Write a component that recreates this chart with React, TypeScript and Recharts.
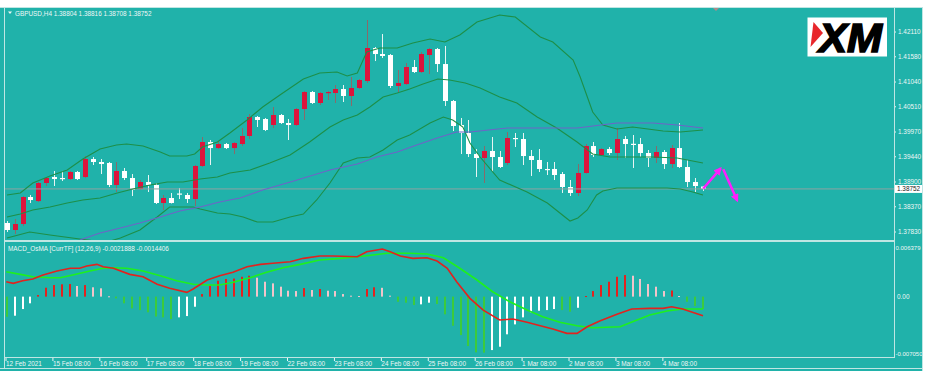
import React from 'react';
import { ComposedChart, Bar, Line, XAxis, YAxis, ReferenceLine } from 'recharts';

// ---------- data ----------
const symbolTitle = 'GBPUSD,H4  1.38804 1.38816 1.38708 1.38752';
const macdTitle = 'MACD_OsMA [CurrTF] (12,26,9) -0.0021888 -0.0014406';

const timeLabels = ['12 Feb 2021', '15 Feb 08:00', '16 Feb 08:00', '17 Feb 08:00', '18 Feb 08:00', '19 Feb 08:00', '22 Feb 08:00', '23 Feb 08:00', '24 Feb 08:00', '25 Feb 08:00', '26 Feb 08:00', '1 Mar 08:00', '2 Mar 08:00', '3 Mar 08:00', '4 Mar 08:00'];
const timeLabelBars = [0, 6, 12, 18, 24, 30, 36, 42, 48, 54, 60, 66, 72, 78, 84];

const priceTicks = [1.4211, 1.4158, 1.4104, 1.4051, 1.3997, 1.3944, 1.389, 1.3837, 1.3783];
const macdTicks = [0.006379, 0, -0.00705];
const macdTickLabels = ['0.006379', '0.00', '-0.007050'];
const lastPrice = 1.38752;

const opens = [1.38023, 1.37873, 1.38001, 1.38579, 1.38493, 1.38879, 1.39007, 1.38986, 1.38964, 1.39114, 1.39007, 1.39392, 1.39328, 1.39307, 1.38836, 1.39136, 1.38986, 1.3875, 1.389, 1.38836, 1.38451, 1.38558, 1.38654, 1.38622, 1.38536, 1.39243, 1.39756, 1.39627, 1.39713, 1.39627, 1.39713, 1.39885, 1.40291, 1.40248, 1.4012, 1.40334, 1.40163, 1.4012, 1.40462, 1.40826, 1.40591, 1.40805, 1.40805, 1.4089, 1.40741, 1.40912, 1.41061, 1.41768, 1.41639, 1.41618, 1.40955, 1.40997, 1.41361, 1.41254, 1.41618, 1.41746, 1.41425, 1.40634, 1.4012, 1.39949, 1.39499, 1.39414, 1.39564, 1.39435, 1.39307, 1.39842, 1.3982, 1.39456, 1.39371, 1.39179, 1.39179, 1.39071, 1.38793, 1.38665, 1.39093, 1.3967, 1.39478, 1.39606, 1.39521, 1.3982, 1.39718, 1.39713, 1.39521, 1.39414, 1.39542, 1.39285, 1.39627, 1.39221, 1.389, 1.38804];
const highs = [1.38065, 1.38108, 1.386, 1.38622, 1.389, 1.39007, 1.39136, 1.39136, 1.39136, 1.39136, 1.39456, 1.39435, 1.39392, 1.39328, 1.39328, 1.392, 1.39071, 1.38943, 1.3905, 1.38879, 1.38622, 1.38665, 1.38772, 1.38665, 1.39264, 1.39863, 1.39799, 1.39777, 1.39735, 1.39756, 1.40056, 1.40355, 1.40312, 1.4027, 1.40505, 1.40355, 1.40248, 1.40483, 1.40847, 1.40847, 1.40826, 1.40847, 1.40976, 1.40976, 1.41147, 1.41104, 1.42367, 1.41789, 1.42067, 1.41639, 1.41297, 1.41447, 1.41511, 1.41682, 1.41768, 1.41768, 1.41811, 1.40655, 1.4027, 1.40227, 1.39606, 1.3967, 1.39863, 1.39564, 1.3997, 1.39949, 1.39949, 1.39585, 1.39606, 1.39328, 1.39328, 1.39114, 1.38943, 1.39285, 1.39713, 1.39756, 1.39627, 1.39649, 1.40056, 1.39885, 1.39906, 1.39842, 1.39585, 1.3967, 1.39585, 1.39692, 1.40163, 1.39371, 1.38986, 1.38816];
const lows = [1.3783, 1.37787, 1.37958, 1.38451, 1.38472, 1.38814, 1.38814, 1.38922, 1.38943, 1.38943, 1.38986, 1.39264, 1.39071, 1.38793, 1.38686, 1.38943, 1.386, 1.38729, 1.38686, 1.38429, 1.38301, 1.3844, 1.38536, 1.38451, 1.38386, 1.39221, 1.39264, 1.39606, 1.39606, 1.39499, 1.3967, 1.3982, 1.40077, 1.39991, 1.40056, 1.40142, 1.39799, 1.40099, 1.40227, 1.4057, 1.40548, 1.40655, 1.40591, 1.40612, 1.40527, 1.4089, 1.41019, 1.41489, 1.41554, 1.40912, 1.40826, 1.40976, 1.41233, 1.41233, 1.41211, 1.41254, 1.40527, 1.39991, 1.39499, 1.39435, 1.39007, 1.38879, 1.39114, 1.392, 1.39264, 1.39649, 1.39264, 1.39029, 1.39114, 1.3905, 1.38943, 1.38665, 1.386, 1.386, 1.3908, 1.39435, 1.39456, 1.39478, 1.39371, 1.39414, 1.392, 1.39435, 1.39221, 1.39307, 1.39179, 1.392, 1.392, 1.38793, 1.38686, 1.38708];
const closes = [1.37873, 1.38001, 1.38579, 1.38515, 1.38879, 1.38986, 1.38964, 1.38975, 1.39114, 1.38964, 1.39392, 1.39328, 1.39285, 1.38836, 1.39136, 1.38986, 1.38729, 1.389, 1.38836, 1.38451, 1.38558, 1.38451, 1.38632, 1.38536, 1.39243, 1.39756, 1.39627, 1.39713, 1.39627, 1.39735, 1.39885, 1.40291, 1.40227, 1.40013, 1.40334, 1.40163, 1.4012, 1.40462, 1.40826, 1.40591, 1.40805, 1.40826, 1.4089, 1.40741, 1.40912, 1.41083, 1.41768, 1.41639, 1.41597, 1.40955, 1.41019, 1.41361, 1.41254, 1.41639, 1.41746, 1.41425, 1.40634, 1.40099, 1.39949, 1.39499, 1.39414, 1.39564, 1.39435, 1.39221, 1.39842, 1.3982, 1.39456, 1.39371, 1.39179, 1.39157, 1.3905, 1.38793, 1.38665, 1.39093, 1.3967, 1.39478, 1.39606, 1.39521, 1.3982, 1.39713, 1.39708, 1.39521, 1.39414, 1.39542, 1.39285, 1.39627, 1.39221, 1.389, 1.38814, 1.38752];

// [bar index, value]
const upperBand: [number, number][] = [[0, 1.38622], [1.7, 1.38665], [3.3, 1.38879], [5.5, 1.39029], [7.7, 1.39157], [9.7, 1.39392], [11.9, 1.39606], [14, 1.39692], [15.3, 1.39713], [17.4, 1.3967], [19.6, 1.39542], [20.8, 1.39456], [23, 1.39456], [24, 1.39499], [25, 1.39649], [26.9, 1.39756], [28.5, 1.39949], [30.7, 1.40227], [32.7, 1.40505], [34.9, 1.40762], [37.9, 1.41104], [40, 1.41233], [42.2, 1.41254], [43.5, 1.41168], [44.8, 1.41233], [46, 1.41682], [47.7, 1.41768], [49.9, 1.41768], [51.9, 1.41875], [54.1, 1.4196], [56, 1.41896], [57.9, 1.42046], [60.1, 1.42324], [63, 1.42474], [65, 1.42431], [68.2, 1.42003], [69.8, 1.41896], [72.4, 1.41511], [73.3, 1.41147], [74.9, 1.40398], [76.2, 1.4012], [78, 1.40034], [80, 1.40077], [83.9, 1.39991], [86.1, 1.3997], [89, 1.40013]];
const middleBand: [number, number][] = [[0, 1.38151], [1.7, 1.38215], [3.3, 1.38301], [5.5, 1.38365], [7.7, 1.38451], [9.7, 1.38515], [11.9, 1.38558], [14.1, 1.38665], [16.1, 1.3875], [18.3, 1.38836], [20.5, 1.389], [22.5, 1.389], [24.7, 1.38964], [26.9, 1.39007], [28.5, 1.39093], [31.1, 1.39157], [33.6, 1.39307], [36.2, 1.39478], [38.7, 1.39756], [41.3, 1.40077], [43, 1.40227], [44.8, 1.40334], [46.4, 1.40505], [48.1, 1.40719], [49.9, 1.40805], [51.5, 1.4089], [53.2, 1.40997], [55.1, 1.41104], [56.6, 1.41083], [58.6, 1.41019], [60.5, 1.40912], [63, 1.40719], [65.2, 1.40591], [67.8, 1.40291], [70.3, 1.40056], [72.9, 1.39756], [74.9, 1.39499], [77.1, 1.39435], [80, 1.39435], [82.6, 1.39435], [85.7, 1.39414], [89, 1.39307]];
const lowerBand: [number, number][] = [[0, 1.37702], [2.9, 1.3783], [5.5, 1.37766], [9.3, 1.3768], [11.3, 1.37637], [13.2, 1.37637], [14.5, 1.37702], [17, 1.37873], [19.2, 1.38151], [20.8, 1.38365], [23.8, 1.38365], [24.7, 1.38322], [26.9, 1.38236], [28.5, 1.38215], [30.2, 1.38151], [32, 1.38044], [34, 1.38044], [36.2, 1.38151], [37.9, 1.38215], [39.6, 1.38515], [41.3, 1.38879], [43, 1.39307], [44.8, 1.39414], [46.4, 1.39435], [48.1, 1.39585], [49.9, 1.39799], [51.5, 1.39906], [54.1, 1.40163], [55.8, 1.40291], [57, 1.40227], [58.3, 1.40077], [59.2, 1.39735], [60.5, 1.39435], [63, 1.38943], [66.5, 1.38686], [69.1, 1.38451], [72, 1.38065], [73, 1.38129], [74.2, 1.38301], [75.4, 1.38622], [76.2, 1.38707], [78, 1.38772], [81.3, 1.38772], [84.4, 1.38772], [86.1, 1.3875], [87.7, 1.38686], [89, 1.38622]];
const slowMA: [number, number][] = [[9.3, 1.37659], [11.9, 1.37809], [14.5, 1.37916], [17, 1.38023], [19.6, 1.38151], [22.1, 1.38279], [24.7, 1.38365], [27.2, 1.38472], [29.8, 1.38558], [32.7, 1.38729], [37.1, 1.38943], [41.3, 1.39157], [44.8, 1.39285], [47.3, 1.39435], [49.9, 1.39542], [52.4, 1.39692], [55, 1.39842], [57.5, 1.3997], [59.2, 1.3997], [64, 1.40056], [72.9, 1.40056], [78, 1.40163], [82.6, 1.40163], [85.7, 1.4012], [89, 1.40056]];

const arrowUp: [number, number][] = [[89.04, 1.3876], [91.27, 1.39193]];
const arrowDown: [number, number][] = [[91.6, 1.39172], [93.39, 1.385]];

const macdLine: [number, number][] = [[-0.1, 0.00174], [0.8, 0.00155], [2, 0.00186], [3.3, 0.00206], [4.6, 0.00252], [6.4, 0.00299], [8.1, 0.00331], [9.3, 0.00331], [10.2, 0.00357], [11.5, 0.00377], [12.3, 0.00349], [13.6, 0.00331], [15.7, 0.0026], [17.4, 0.00232], [19.2, 0.00144], [20.8, 0.00097], [23, 0.0005], [23.8, 0.00089], [25.6, 0.00194], [27.2, 0.00244], [28.9, 0.00284], [30.7, 0.00349], [32.4, 0.00377], [34, 0.00389], [36.2, 0.00408], [37.9, 0.00447], [40, 0.00474], [41.7, 0.00474], [44.8, 0.00466], [46, 0.00524], [48, 0.00556], [49, 0.00524], [50.3, 0.00474], [51.9, 0.00447], [53.7, 0.00454], [55, 0.00416], [56.3, 0.00331], [57.5, 0.00174], [59.2, -0.0002], [60.9, -0.00157], [63, -0.00273], [64.7, -0.00262], [66.5, -0.003], [68.2, -0.0034], [69.8, -0.00378], [71.6, -0.00429], [72.9, -0.00429], [74.2, -0.00352], [75.8, -0.00285], [78, -0.00207], [79.9, -0.00145], [82.2, -0.00137], [83.9, -0.00137], [85, -0.00118], [86.4, -0.00145], [89, -0.00223]];
const signalLine: [number, number][] = [[-0.1, 0.00291], [1.7, 0.0026], [3.3, 0.00232], [5.5, 0.00221], [6.8, 0.00221], [8.4, 0.00252], [10.6, 0.00299], [12.3, 0.00331], [13.6, 0.00338], [15.3, 0.00331], [17.4, 0.00299], [19.6, 0.00244], [21.7, 0.00186], [23.8, 0.00144], [25.6, 0.00135], [27.2, 0.00135], [28.9, 0.00167], [31.1, 0.00221], [33.2, 0.00284], [35.3, 0.00338], [37.5, 0.00377], [40, 0.00427], [42.6, 0.00447], [46, 0.00478], [48.6, 0.00506], [51.5, 0.00506], [53.7, 0.00498], [55.8, 0.00454], [57.9, 0.00331], [60.1, 0.00194], [62.1, 0.00057], [64.3, -0.0006], [66.5, -0.00157], [68.5, -0.00235], [70.7, -0.003], [72.9, -0.0034], [74.9, -0.00363], [78.4, -0.00352], [80, -0.00293], [82.2, -0.00215], [84.4, -0.00168], [86.4, -0.00145], [89, -0.00145]];
const osma = [-0.00235, -0.00223, -0.00145, -0.00078, 0.00019, 0.00104, 0.00135, 0.00144, 0.00147, 0.00124, 0.00135, 0.00109, 0.00097, 0.00004, -0.0002, -0.00078, -0.00137, -0.00157, -0.00183, -0.00232, -0.00242, -0.00262, -0.00242, -0.00227, -0.00118, 0.0003, 0.00127, 0.00186, 0.00206, 0.00211, 0.00232, 0.00244, 0.00221, 0.00174, 0.00155, 0.00116, 0.00069, 0.00065, 0.001, 0.00077, 0.00089, 0.00069, 0.00065, 0.0003, 0.00011, 0.00007, 0.00089, 0.00109, 0.00103, 0.00011, -0.0006, -0.00071, -0.00098, -0.0009, -0.00071, -0.00086, -0.00207, -0.0034, -0.00449, -0.00577, -0.00651, -0.00654, -0.00624, -0.00585, -0.0044, -0.00324, -0.00242, -0.00183, -0.00165, -0.00157, -0.00145, -0.00157, -0.00176, -0.0013, 0.00007, 0.00065, 0.00135, 0.00174, 0.00232, 0.00252, 0.00244, 0.00206, 0.00147, 0.00116, 0.00065, 0.00071, 0.00007, -0.0006, -0.0011, -0.00145];

// ---------- styles ----------
const TEAL = '#20B2AA';
const FRAME = '#bfe6e3';
const TXT = '#eef7f6';
const UP = '#dc143c';
const DN = '#ffffff';
const WICK_UP = '#8a6a6a';
const WICK_DN = '#e8f4f3';
const BAND = '#1d8f48';
const MA = '#6e64c8';
const FONT = '"Liberation Sans", Arial, sans-serif';
const FS = 6.4;
const X_DOMAIN: [number, number] = [-0.2558, 113.43];
const PRICE_DOMAIN: [number, number] = [1.37659, 1.42624];
const MACD_DOMAIN: [number, number] = [-0.00705, 0.006379];

const candleRows = opens.map((o, i) => ({ i, open: o, high: highs[i], low: lows[i], close: closes[i], range: [lows[i], highs[i]] }));
const histRows = osma.map((v, i) => ({ i, v, k: i }));
const pts = (arr: [number, number][]) => arr.map(([i, v]) => ({ i, v }));
const histColor = (k: number) => {
  const v = osma[k];
  const prev = k > 0 ? osma[k - 1] : v;
  if (v >= 0) return v >= prev ? '#e3221e' : '#f3c4ca';
  return v <= prev ? '#3ccb3c' : '#ffffff';
};

const Candle = (props: any) => {
  const { x, y, width, height, payload } = props;
  if (x == null || y == null || !payload) return null;
  const { open, close, high, low } = payload;
  const cx = Math.round(x + width / 2) + 0.5;
  const top = Math.min(y, y + height);
  const h = Math.abs(height);
  const span = high - low || 1e-9;
  const py = (v: number) => top + ((high - v) / span) * h;
  const bull = close >= open;
  const bTop = py(Math.max(open, close));
  const bBot = py(Math.min(open, close));
  const bh = Math.max(1.2, bBot - bTop);
  return (
    <g>
      <line x1={cx} x2={cx} y1={top} y2={top + h} stroke={bull ? WICK_UP : WICK_DN} strokeWidth={1} />
      <rect x={cx - 2.5} y={bTop} width={5} height={bh} fill={bull ? UP : DN} />
    </g>
  );
};

const HistBar = (props: any) => {
  const { x, y, width, height, payload } = props;
  if (x == null || y == null || !payload) return null;
  const cx = Math.round(x + width / 2);
  const top = Math.min(y, y + height);
  const h = Math.max(1, Math.abs(height));
  return <rect x={cx - 1} y={top} width={2} height={h} fill={histColor(payload.k)} />;
};

const PriceTick = (props: any) => {
  const { x, y, payload } = props;
  return (
    <g>
      <line x1={x} x2={x + 2} y1={y} y2={y} stroke={TXT} strokeWidth={1} />
      <text x={x + 4} y={y + 2.3} fontSize={FS} fill={TXT} fontFamily={FONT}>{Number(payload.value).toFixed(5)}</text>
    </g>
  );
};

const MacdTick = (props: any) => {
  const { x, y, payload, index } = props;
  const k = macdTicks.indexOf(payload.value);
  const dy = k === 0 ? 7.7 : k === macdTicks.length - 1 ? -1.3 : 2.3;
  const edge = k !== 1;
  return (
    <text x={x + (edge ? 1.5 : 3)} y={y + dy} fontSize={edge ? 6 : FS} fill={TXT} fontFamily={FONT}>{macdTickLabels[k >= 0 ? k : index]}</text>
  );
};

const TimeTick = (props: any) => {
  const { x, y, payload } = props;
  const k = timeLabelBars.indexOf(payload.value);
  if (k < 0) return null;
  return (
    <g>
      <line x1={x - 1} x2={x - 1} y1={y} y2={y + 4} stroke={TXT} strokeWidth={1} />
      <text x={x - 1} y={y + 8.6} fontSize={FS} fill={TXT} fontFamily={FONT}>{timeLabels[k]}</text>
    </g>
  );
};

const PriceBox = (props: any) => {
  const vb = props.viewBox || {};
  const bx = vb.x + vb.width + 1;
  return (
    <g>
      <rect x={bx} y={vb.y - 4} width={27} height={8} fill="#ffffff" />
      <text x={bx + 2} y={vb.y + 2.3} fontSize={FS} fill="#1a1a1a" fontFamily={FONT}>{lastPrice.toFixed(5)}</text>
    </g>
  );
};

export default function App() {
  return (
    <div style={{ position: 'absolute', left: 0, top: 0, width: 928, height: 371, background: '#ffffff', overflow: 'hidden', fontFamily: FONT }}>
      <div style={{ position: 'absolute', left: 0, top: 7, width: 923, height: 364, background: TEAL }} />
      <div style={{ position: 'absolute', left: 0, top: 0, width: 923, height: 241, overflow: 'hidden' }}>
        <ComposedChart width={923} height={241} data={candleRows} margin={{ top: 8, right: 0, bottom: 1, left: 5 }}>
          <defs>
            <marker id="arrowHead" viewBox="0 0 10 10" refX="8" refY="5" markerWidth="3.4" markerHeight="3.2" orient="auto">
              <path d="M0,0 L10,5 L0,10 z" fill="#ff1cff" />
            </marker>
          </defs>
          <XAxis dataKey="i" type="number" domain={X_DOMAIN} hide allowDataOverflow />
          <YAxis orientation="right" width={29} domain={PRICE_DOMAIN} ticks={priceTicks} interval={0} tick={<PriceTick />} axisLine={false} tickLine={false} tickSize={0} tickMargin={0} allowDataOverflow />
          <ReferenceLine y={lastPrice} stroke="#8fa3a1" strokeWidth={1} ifOverflow="visible" label={(p: any) => <PriceBox {...p} />} />
          <Line data={pts(lowerBand)} dataKey="v" stroke={BAND} strokeWidth={1.1} dot={false} isAnimationActive={false} />
          <Line data={pts(middleBand)} dataKey="v" stroke={BAND} strokeWidth={1.1} dot={false} isAnimationActive={false} />
          <Line data={pts(upperBand)} dataKey="v" stroke={BAND} strokeWidth={1.1} dot={false} isAnimationActive={false} />
          <Line data={pts(slowMA)} dataKey="v" stroke={MA} strokeWidth={1.1} dot={false} isAnimationActive={false} />
          <Bar dataKey="range" barSize={5} shape={(p: any) => <Candle {...p} />} isAnimationActive={false} />
          <Line data={pts(arrowUp)} dataKey="v" stroke="#ff1cff" strokeWidth={2.5} dot={false} markerEnd="url(#arrowHead)" isAnimationActive={false} />
          <Line data={pts(arrowDown)} dataKey="v" stroke="#ff1cff" strokeWidth={2.5} dot={false} markerEnd="url(#arrowHead)" isAnimationActive={false} />
        </ComposedChart>
      </div>
      <div style={{ position: 'absolute', left: 0, top: 241, width: 923, height: 130, overflow: 'hidden' }}>
        <ComposedChart width={923} height={130} data={histRows} margin={{ top: 1, right: 0, bottom: 0, left: 5 }}>
          <XAxis dataKey="i" type="number" domain={X_DOMAIN} ticks={timeLabelBars} interval={0} height={14} tick={<TimeTick />} axisLine={false} tickLine={false} tickSize={0} tickMargin={0} allowDataOverflow />
          <YAxis orientation="right" width={29} domain={MACD_DOMAIN} ticks={macdTicks} interval={0} tick={<MacdTick />} axisLine={false} tickLine={false} tickSize={0} tickMargin={0} allowDataOverflow />
          <Bar dataKey="v" barSize={2} shape={(p: any) => <HistBar {...p} />} isAnimationActive={false} />
          <Line data={pts(signalLine)} dataKey="v" stroke="#1ef01e" strokeWidth={1.6} dot={false} isAnimationActive={false} />
          <Line data={pts(macdLine)} dataKey="v" stroke="#e3221e" strokeWidth={1.6} dot={false} isAnimationActive={false} />
        </ComposedChart>
      </div>
      <svg width={928} height={371} style={{ position: 'absolute', left: 0, top: 0, pointerEvents: 'none' }}>
        <line x1={0} x2={923} y1={7.5} y2={7.5} stroke={FRAME} />
        <line x1={4.5} x2={4.5} y1={7} y2={369} stroke={FRAME} />
        <line x1={4.5} x2={894.5} y1={241} y2={241} stroke={FRAME} strokeWidth={2} />
        <line x1={4.5} x2={894.5} y1={357.5} y2={357.5} stroke={FRAME} />
        <line x1={894.5} x2={894.5} y1={7} y2={358} stroke={FRAME} />
        <line x1={922.5} x2={922.5} y1={7} y2={371} stroke={FRAME} />
        <line x1={0} x2={923} y1={368.5} y2={368.5} stroke={FRAME} />
        <polygon points="8,11.5 12,11.5 10,14" fill={TXT} />
        <text x={15} y={16} fontSize={FS} fill={TXT} fontFamily={FONT}>{symbolTitle}</text>
        <text x={8} y={251} fontSize={FS} fill={TXT} fontFamily={FONT}>{macdTitle}</text>
        <polygon points="713,8 719,8 716,11" fill="#b08a8a" />
        <rect x={807.5} y={17.5} width={79.5} height={39} fill="#ffffff" />
        <polygon points="813.5,22 823,33 810.5,47" fill="#e8262b" />
        <text x={819} y={52} fontSize={40} fontWeight="bold" fontStyle="italic" fill="#000" stroke="#000" strokeWidth={1.6} textLength={63} lengthAdjust="spacingAndGlyphs" fontFamily={FONT}>XM</text>
      </svg>
    </div>
  );
}
